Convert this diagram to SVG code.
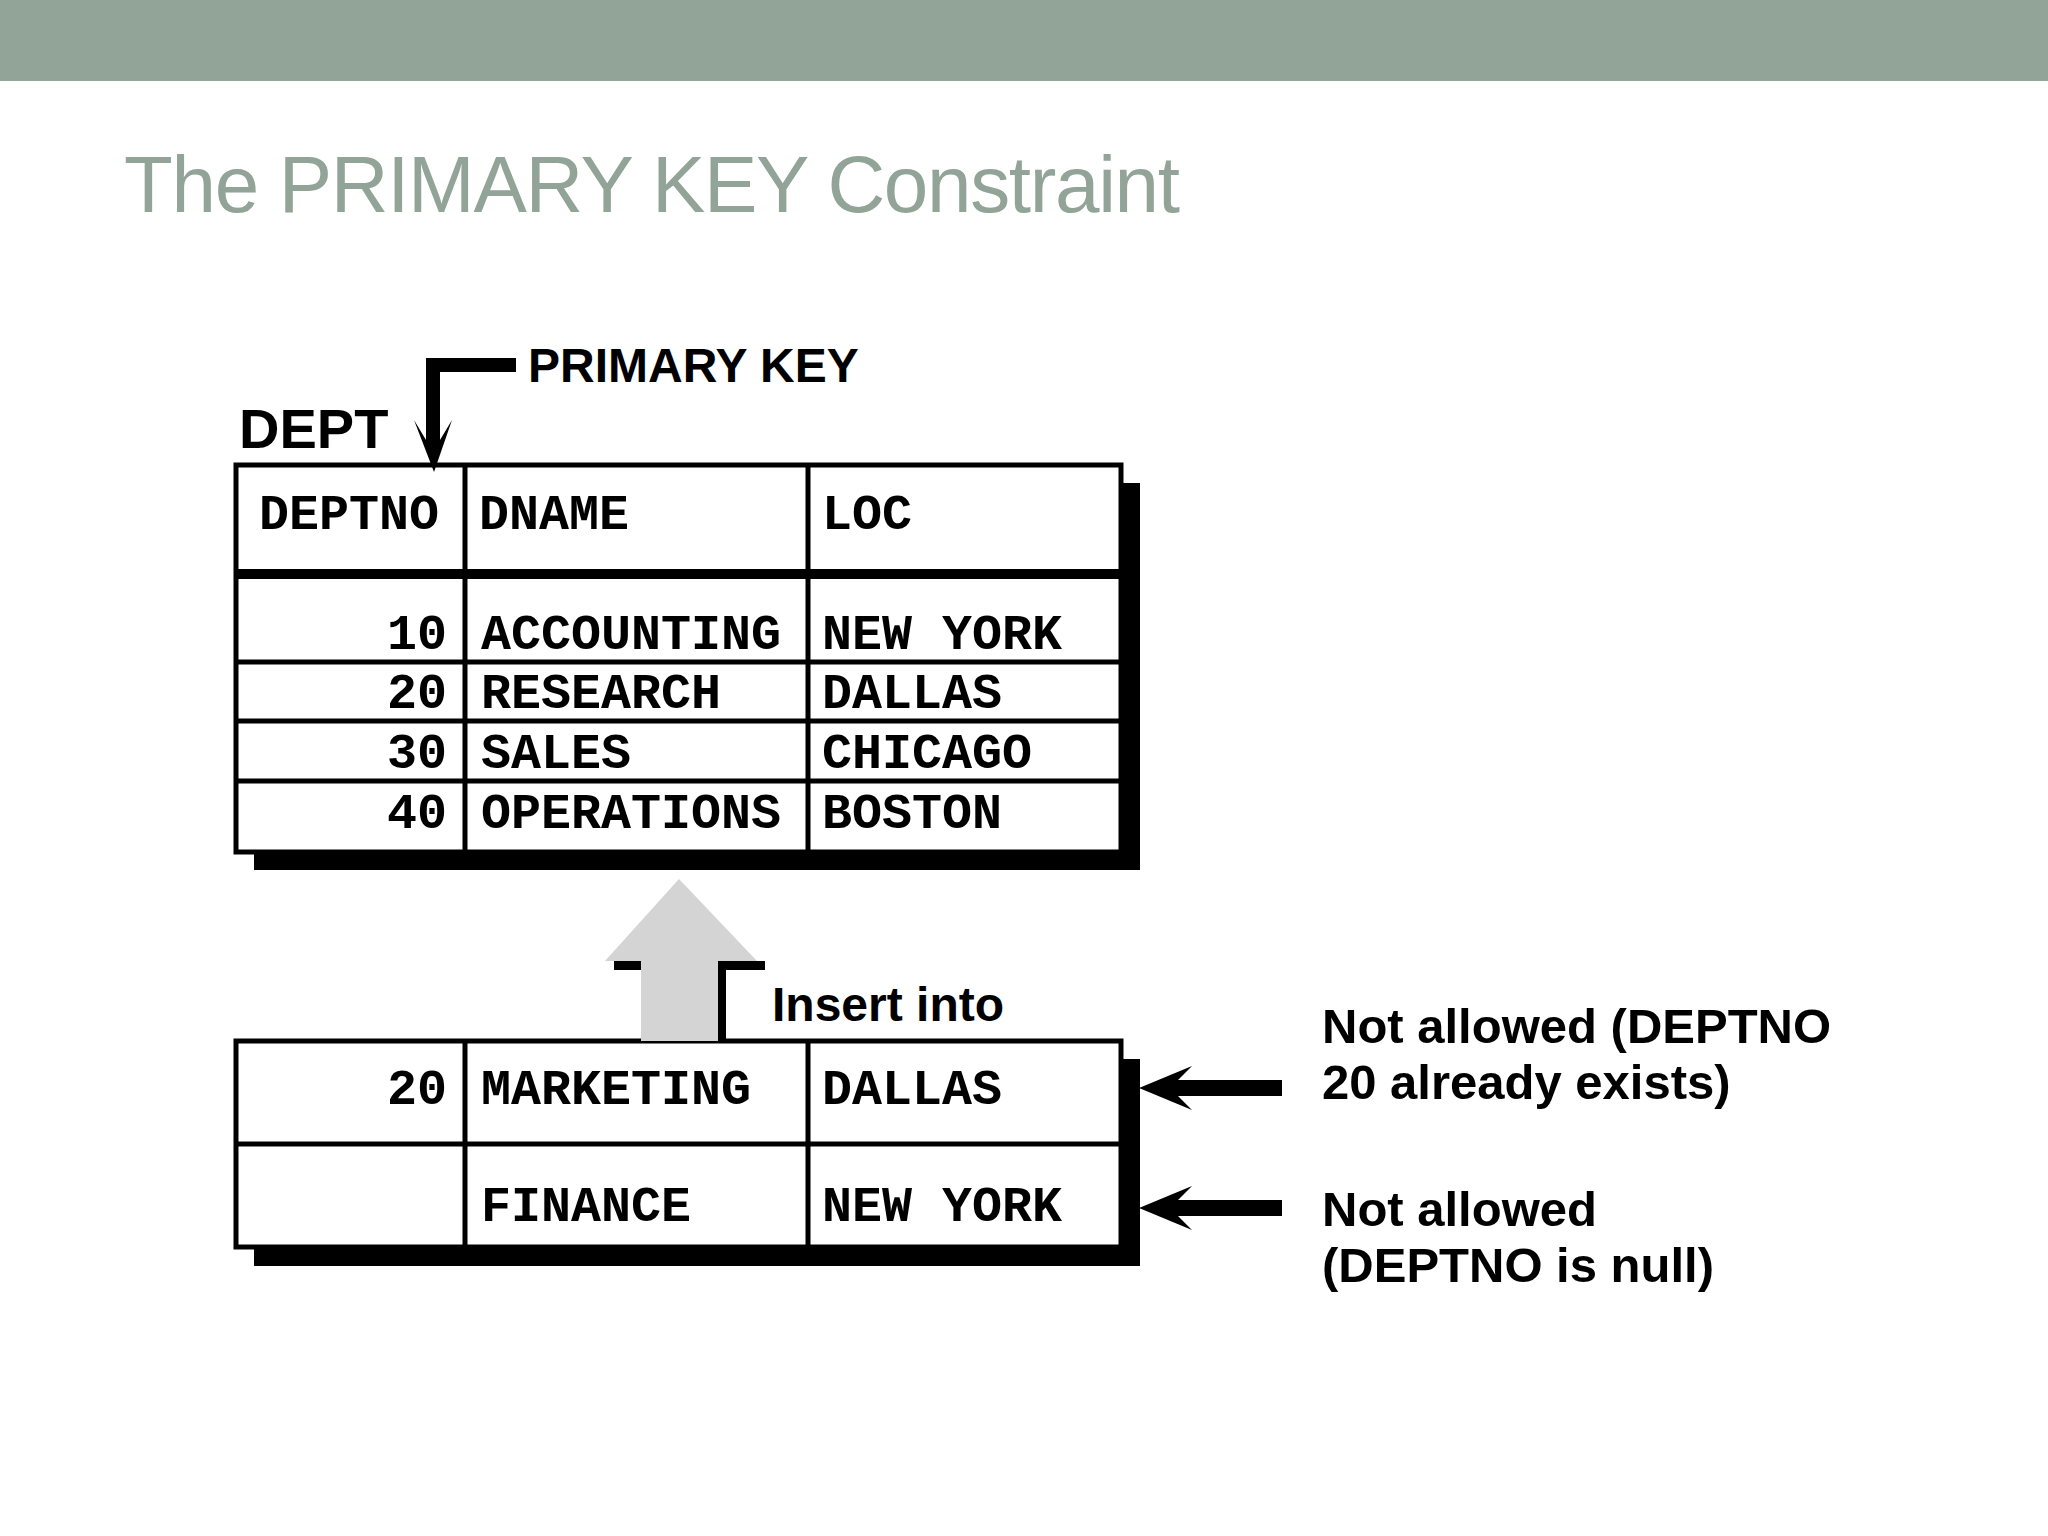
<svg xmlns="http://www.w3.org/2000/svg" width="2048" height="1536" viewBox="0 0 2048 1536">
<style>
.m{font-family:"Liberation Mono",monospace;font-weight:bold;font-size:50px;fill:#000}
.s{font-family:"Liberation Sans",Arial,sans-serif;font-weight:bold;fill:#000}
.g{fill:none;stroke:#000;stroke-width:5}
</style>
<rect width="2048" height="1536" fill="#fff"/>
<rect width="2048" height="81" fill="#92a397"/>
<text x="124" y="212" font-family="Liberation Sans,Arial,sans-serif" font-size="80" fill="#92a397" textLength="1056">The PRIMARY KEY Constraint</text>

<g id="dept-table">
<rect x="254" y="483" width="886" height="387" fill="#000"/>
<rect x="236" y="465" width="885" height="387" fill="#fff" stroke="#000" stroke-width="5"/>
<rect x="236" y="569" width="885" height="10" fill="#000"/>
<line class="g" x1="465" y1="465" x2="465" y2="852"/>
<line class="g" x1="808" y1="465" x2="808" y2="852"/>
<line class="g" x1="236" y1="662" x2="1121" y2="662"/>
<line class="g" x1="236" y1="721" x2="1121" y2="721"/>
<line class="g" x1="236" y1="781" x2="1121" y2="781"/>
<text class="m" x="259" y="529">DEPTNO</text><text class="m" x="479" y="529">DNAME</text><text class="m" x="822" y="529">LOC</text>
<text class="m" x="447" y="649" text-anchor="end">10</text><text class="m" x="481" y="649">ACCOUNTING</text><text class="m" x="822" y="649">NEW YORK</text>
<text class="m" x="447" y="708" text-anchor="end">20</text><text class="m" x="481" y="708">RESEARCH</text><text class="m" x="822" y="708">DALLAS</text>
<text class="m" x="447" y="768" text-anchor="end">30</text><text class="m" x="481" y="768">SALES</text><text class="m" x="822" y="768">CHICAGO</text>
<text class="m" x="447" y="828" text-anchor="end">40</text><text class="m" x="481" y="828">OPERATIONS</text><text class="m" x="822" y="828">BOSTON</text>
<text class="s" x="239" y="448" font-size="56">DEPT</text>
</g>

<g id="pk-label">
<polygon points="516,358 426,358 426,440 414,420 434,472 452,420 440,440 440,372 516,372" fill="#000"/>
<text class="s" x="528" y="382" font-size="48">PRIMARY KEY</text>
</g>

<g id="insert-table">
<rect x="254" y="1059" width="886" height="207" fill="#000"/>
<rect x="236" y="1041" width="885" height="206" fill="#fff" stroke="#000" stroke-width="5"/>
<line class="g" x1="465" y1="1041" x2="465" y2="1247"/>
<line class="g" x1="808" y1="1041" x2="808" y2="1247"/>
<line class="g" x1="236" y1="1144" x2="1121" y2="1144"/>
<text class="m" x="447" y="1104" text-anchor="end">20</text><text class="m" x="481" y="1104">MARKETING</text><text class="m" x="822" y="1104">DALLAS</text>
<text class="m" x="481" y="1221">FINANCE</text><text class="m" x="822" y="1221">NEW YORK</text>
</g>

<g id="connectors">
<polygon points="614,961 641,961 641,970 614,970" fill="#000"/>
<polygon points="718,961 765,961 765,970 726,970 726,1041 718,1041" fill="#000"/>
<polygon points="679,879 757,961 718,961 718,1041 641,1041 641,961 605,961" fill="#d4d4d4"/>
<polygon points="1282,1080 1178,1080 1192,1066 1139,1088 1192,1110 1178,1096 1282,1096" fill="#000"/>
<polygon points="1282,1200 1178,1200 1192,1186 1139,1208 1192,1230 1178,1216 1282,1216" fill="#000"/>
</g>

<g id="labels">
<text class="s" x="772" y="1021" font-size="48">Insert into</text>
<text class="s" x="1322" y="1043" font-size="49">Not allowed (DEPTNO</text>
<text class="s" x="1322" y="1099" font-size="49">20 already exists)</text>
<text class="s" x="1322" y="1226" font-size="49">Not allowed</text>
<text class="s" x="1322" y="1282" font-size="49">(DEPTNO is null)</text>
</g>
</svg>
